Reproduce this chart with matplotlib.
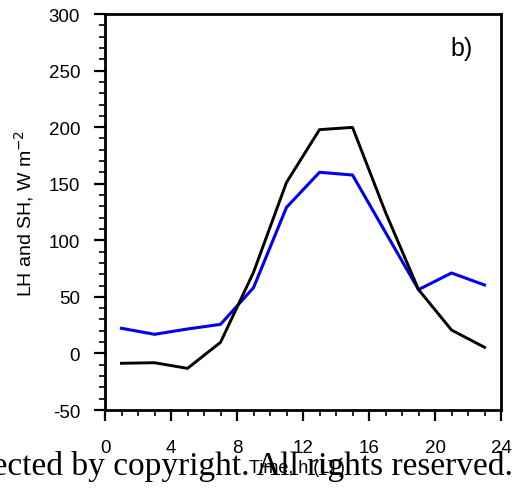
import matplotlib
matplotlib.use("Agg")
import matplotlib.pyplot as plt
from matplotlib.ticker import MultipleLocator

# ===================================================== Data ===================================================== #

hours = [1, 3, 5, 7, 9, 11, 13, 15, 17, 19, 21, 23]
flux_black = [-8.7, -8.2, -13.2, 9.8, 71.7, 151.2, 197.8, 199.8, 124.7, 56.4, 20.7, 5.4]
flux_blue = [22.2, 16.9, 21.6, 25.7, 58.1, 129.1, 160.1, 157.7, 107.0, 56.4, 71.1, 60.5]

x_ticks = [0, 4, 8, 12, 16, 20, 24]
y_ticks = [-50, 0, 50, 100, 150, 200, 250, 300]


# ===================================================== Main ===================================================== #

def main():
    plt.rcParams['font.family'] = ['Liberation Sans', 'DejaVu Sans']
    plt.rcParams['axes.unicode_minus'] = False
    fig = plt.figure(figsize=(5.17, 4.89), dpi=100)
    ax = fig.add_axes([0.2031, 0.1595, 0.766, 0.8098])

    ax.plot(hours, flux_blue, color='#0000ee', lw=2.2)
    ax.plot(hours, flux_black, color='black', lw=2.1)

    ax.set_xlim(0, 24)
    ax.set_ylim(-50, 300)
    ax.set_xticks(x_ticks)
    ax.set_yticks(y_ticks)
    ax.xaxis.set_minor_locator(MultipleLocator(1))
    ax.yaxis.set_minor_locator(MultipleLocator(10))
    ax.tick_params(which='major', direction='out', length=8, width=1.6, labelsize=13.5)
    ax.tick_params(which='minor', direction='out', length=4, width=1.2)
    ax.tick_params(axis='x', which='major', pad=13)
    ax.tick_params(axis='y', which='major', pad=10)
    for spine in ax.spines.values():
        spine.set_linewidth(2.0)

    ax.set_ylabel('LH and SH, W m$^{-2}$', fontsize=14, labelpad=9)
    ax.text(0.929, 0.913, 'b)', transform=ax.transAxes, fontsize=18, ha='right', va='center')

    # axis title and stamp along the bottom edge
    fig.text(0.574, 0.041, 'Time, h (LT)', fontsize=13, ha='center', va='center')
    fig.text(0.993, 0.029, 'Protected by copyright. All rights reserved.', fontsize=24,
             family='Liberation Serif', ha='right', va='baseline')

    fig.savefig('out.png', dpi=100)


if __name__ == '__main__':
    main()
